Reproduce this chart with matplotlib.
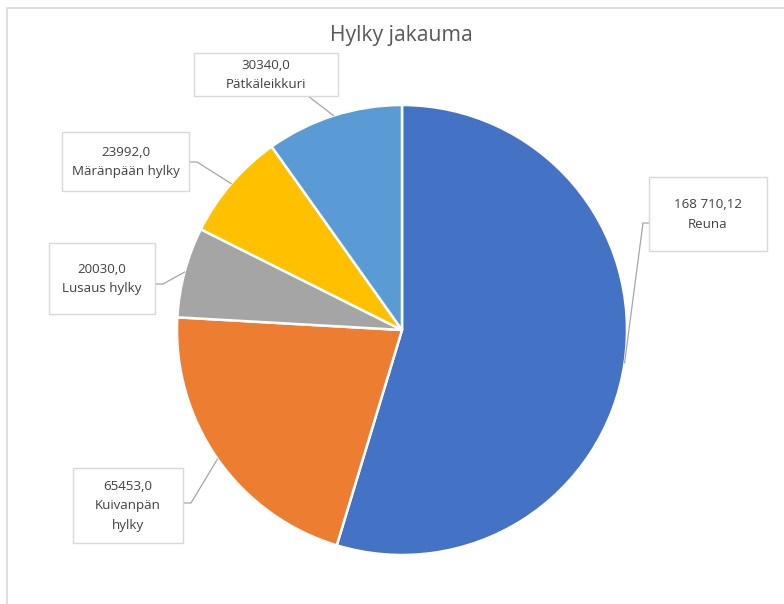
import numpy as np
import matplotlib
matplotlib.use("Agg")
import matplotlib.pyplot as plt
from matplotlib.patches import Rectangle

# Data
categories = ["Reuna", "Kuivanpän hylky", "Lusaushylky", "Märänpäänhylky", "Pätkäleikkuri"]
values = [168710.12, 65453.0, 20030.0, 23992.0, 30340.0]
value_labels = ["168 710,12", "65453,0", "20030,0", "23992,0", "30340,0"]
label_names = ["Reuna", "Kuivanpän\nhylky", "Lusaus hylky", "Märänpään hylky", "Pätkäleikkuri"]
colors = ["#4472C4", "#ED7D31", "#A5A5A5", "#FFC000", "#5B9BD5"]
title = "Hylky jakauma"

W, H = 784, 604
fig = plt.figure(figsize=(W / 100, H / 100), dpi=100)
ax = fig.add_axes([0, 0, 1, 1])
ax.set_xlim(0, W)
ax.set_ylim(0, H)
ax.set_aspect("equal")
ax.axis("off")

def py(y):
    return H - y

# chart border
ax.plot([7.5, 7.5, W + 5], [py(H + 5), py(8), py(8)], color="#D9D9D9", lw=1.2, solid_joinstyle="miter")

cx, cy, R = 402, py(330), 225
wedges, _ = ax.pie(values, colors=colors, startangle=90, counterclock=False,
                   center=(cx, cy), radius=R, frame=True,
                   wedgeprops=dict(edgecolor="white", linewidth=1.8))
ax.set_xlim(0, W)
ax.set_ylim(0, H)
ax.axis("off")

ax.text(401, py(36), title, ha="center", va="center", fontsize=15.2,
        color="#595959", family="Open Sans")

# label boxes (pixel layout): x0, y0, x1, y1, elbow side
boxes = [
    (649, 177, 767, 251, "left"),
    (73, 468, 183, 543, "right"),
    (49, 243, 155, 314, "right"),
    (62, 132, 189, 191, "right"),
    (194, 53, 338, 96, "bottom"),
]
elbow_y = [223, 503, 284, 162, None]

for i, w in enumerate(wedges):
    x0, y0, x1, y1, side = boxes[i]
    ax.add_patch(Rectangle((x0, py(y1)), x1 - x0, y1 - y0, facecolor="white",
                           edgecolor="#D9D9D9", lw=1.0, zorder=3))
    txt = value_labels[i] + "\n" + label_names[i]
    ax.text((x0 + x1) / 2, py((y0 + y1) / 2 + 0.5), txt, ha="center", va="center",
            fontsize=9.6, color="#404040", family="Open Sans",
            linespacing=1.6, zorder=4)
    ang = np.deg2rad((w.theta1 + w.theta2) / 2)
    ex, ey = cx + R * np.cos(ang), cy + R * np.sin(ang)
    if side == "left":
        pts = [(x0, py(elbow_y[i])), (x0 - 6, py(elbow_y[i])), (ex, ey)]
    elif side == "right":
        pts = [(x1, py(elbow_y[i])), (x1 + 8, py(elbow_y[i])), (ex, ey)]
    else:
        pts = [(308, py(y1)), (ex, ey)]
    xs, ys = zip(*pts)
    ax.plot(xs, ys, color="#A6A6A6", lw=0.9, zorder=2)

fig.savefig("out.png", dpi=100)
